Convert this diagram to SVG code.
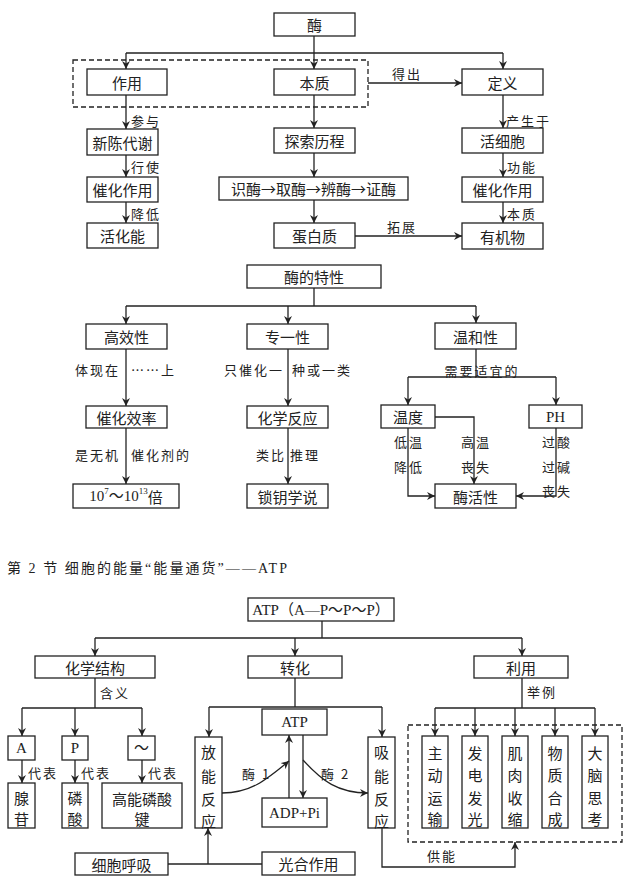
<svg xmlns="http://www.w3.org/2000/svg" width="640" height="894" viewBox="0 0 640 894">
<style>
.b{fill:#fff;stroke:#222;stroke-width:1.3}
.d{fill:none;stroke:#222;stroke-width:1.3;stroke-dasharray:5,3}
.t{font-family:"Noto Sans CJK SC","Liberation Sans",sans-serif;font-size:15px;fill:#222;text-anchor:middle;dominant-baseline:central}
.s{font-family:"Liberation Serif","Noto Sans CJK SC",serif;font-size:15px;fill:#222;text-anchor:middle;dominant-baseline:central}
.l{font-family:"Noto Sans CJK SC","Liberation Sans",sans-serif;font-size:13px;letter-spacing:2px;fill:#222;dominant-baseline:central}
.h{font-family:"Liberation Serif","Noto Sans CJK SC",serif;font-size:14px;fill:#222;dominant-baseline:central}
.c path,.c polyline,.c line{fill:none;stroke:#222;stroke-width:1.3}
.a{marker-end:url(#ar)}
</style>
<defs>
<marker id="ar" markerUnits="userSpaceOnUse" markerWidth="9" markerHeight="9" refX="8" refY="4" orient="auto">
<path d="M0,0 L8,4 L0,8 L2.5,4 z" fill="#222"/>
</marker>
</defs>

<g id="connectors" class="c">
<line class="a" x1="314" y1="36" x2="314" y2="69"/>
<polyline class="a" points="126,53 126,69"/>
<line x1="126" y1="53" x2="503" y2="53"/>
<polyline class="a" points="503,53 503,69"/>
<line class="a" x1="368" y1="83" x2="462" y2="83"/>
<line class="a" x1="314" y1="95" x2="314" y2="128"/>
<line class="a" x1="314" y1="153" x2="314" y2="177"/>
<line class="a" x1="314" y1="200" x2="314" y2="223"/>
<line class="a" x1="355" y1="236" x2="462" y2="236"/>
<line class="a" x1="126" y1="95" x2="126" y2="129"/>
<line class="a" x1="126" y1="155" x2="126" y2="177"/>
<line class="a" x1="126" y1="202" x2="126" y2="223"/>
<line class="a" x1="503" y1="95" x2="503" y2="128"/>
<line class="a" x1="503" y1="153" x2="503" y2="177"/>
<line class="a" x1="503" y1="202" x2="503" y2="223"/>
<line x1="314" y1="288" x2="314" y2="306"/>
<line x1="126" y1="306" x2="476" y2="306"/>
<line class="a" x1="126" y1="306" x2="126" y2="324"/>
<line class="a" x1="288" y1="306" x2="288" y2="324"/>
<line class="a" x1="476" y1="306" x2="476" y2="323"/>
<line class="a" x1="126" y1="349" x2="126" y2="406"/>
<line class="a" x1="126" y1="428" x2="126" y2="484"/>
<line class="a" x1="288" y1="349" x2="288" y2="406"/>
<line class="a" x1="288" y1="428" x2="288" y2="484"/>
<line x1="476" y1="349" x2="476" y2="377"/>
<line x1="408" y1="377" x2="556" y2="377"/>
<line class="a" x1="408" y1="377" x2="408" y2="405"/>
<line class="a" x1="556" y1="377" x2="556" y2="405"/>
<polyline class="a" points="408,428 408,496 435,496"/>
<polyline class="a" points="435,417 474,417 474,484"/>
<polyline class="a" points="556,428 556,496 516,496"/>
<line x1="322" y1="621" x2="322" y2="638"/>
<line x1="95" y1="638" x2="522" y2="638"/>
<line class="a" x1="95" y1="638" x2="95" y2="656"/>
<line class="a" x1="295" y1="638" x2="295" y2="656"/>
<line class="a" x1="522" y1="638" x2="522" y2="656"/>
<line x1="95" y1="678" x2="95" y2="708"/>
<line x1="22" y1="708" x2="142" y2="708"/>
<line class="a" x1="22" y1="708" x2="22" y2="736"/>
<line class="a" x1="75" y1="708" x2="75" y2="736"/>
<line class="a" x1="142" y1="708" x2="142" y2="736"/>
<line class="a" x1="22" y1="760" x2="22" y2="783"/>
<line class="a" x1="75" y1="760" x2="75" y2="783"/>
<line class="a" x1="142" y1="760" x2="142" y2="783"/>
<line x1="295" y1="678" x2="295" y2="707"/>
<line x1="209" y1="707" x2="382" y2="707"/>
<line class="a" x1="209" y1="707" x2="209" y2="737"/>
<line class="a" x1="382" y1="707" x2="382" y2="737"/>
<line class="a" x1="289" y1="798" x2="289" y2="735"/>
<line class="a" x1="303" y1="735" x2="303" y2="798"/>
<path class="a" d="M222,793 C250,793 265,781 289,761"/>
<path class="a" d="M303,760 C322,781 338,793 368,793"/>
<line x1="168" y1="864" x2="262" y2="864"/>
<line class="a" x1="208" y1="864" x2="208" y2="828"/>
<polyline class="a" points="382,828 382,867 515,867 515,842"/>
<line x1="522" y1="678" x2="522" y2="708"/>
<line x1="435" y1="708" x2="595" y2="708"/>
<line class="a" x1="435" y1="708" x2="435" y2="736"/>
<line class="a" x1="475" y1="708" x2="475" y2="736"/>
<line class="a" x1="515" y1="708" x2="515" y2="736"/>
<line class="a" x1="555" y1="708" x2="555" y2="736"/>
<line class="a" x1="595" y1="708" x2="595" y2="736"/>
</g>

<g id="labels">
<text class="l" x="131" y="120">参与</text>
<text class="l" x="131" y="166">行使</text>
<text class="l" x="131" y="213">降低</text>
<text class="l" x="506" y="120">产生于</text>
<text class="l" x="507" y="166">功能</text>
<text class="l" x="507" y="213">本质</text>
<text class="l" x="392" y="73">得出</text>
<text class="l" x="387" y="226">拓展</text>
<text class="l" x="120" y="369" text-anchor="end">体现在</text>
<text class="l" x="131" y="369">……上</text>
<text class="l" x="120" y="454" text-anchor="end">是无机</text>
<text class="l" x="131" y="454">催化剂的</text>
<text class="l" x="284" y="369" text-anchor="end">只催化一</text>
<text class="l" x="292" y="369">种或一类</text>
<text class="l" x="286" y="454" text-anchor="end">类比</text>
<text class="l" x="290" y="454">推理</text>
<text class="l" x="482" y="370" text-anchor="middle">需要适宜的</text>
<text class="l" x="409" y="441" text-anchor="middle">低温</text>
<text class="l" x="409" y="466" text-anchor="middle">降低</text>
<text class="l" x="476" y="441" text-anchor="middle">高温</text>
<text class="l" x="476" y="466" text-anchor="middle">丧失</text>
<text class="l" x="557" y="441" text-anchor="middle">过酸</text>
<text class="l" x="557" y="466" text-anchor="middle">过碱</text>
<text class="l" x="557" y="490" text-anchor="middle">丧失</text>
<text class="h" x="7" y="568" textLength="280" lengthAdjust="spacing">第 2 节  细胞的能量“能量通货”——ATP</text>
<text class="l" x="100" y="692">含义</text>
<text class="l" x="527" y="691">举例</text>
<text class="l" x="28" y="772">代表</text>
<text class="l" x="81" y="772">代表</text>
<text class="l" x="148" y="772">代表</text>
<text class="l" x="242" y="773">酶 1</text>
<text class="l" x="321" y="773">酶 2</text>
<text class="l" x="427" y="855">供能</text>
</g>

<rect class="d" x="73" y="60" width="295" height="47"/>
<rect class="d" x="408" y="725" width="214" height="117"/>

<g id="n_mei"><rect class="b" x="274" y="13" width="81" height="23"/><text class="t" x="314.5" y="24.5">酶</text></g>
<g id="n_zuoyong"><rect class="b" x="87" y="69" width="80" height="26"/><text class="t" x="127" y="82">作用</text></g>
<g id="n_benzhi"><rect class="b" x="274" y="69" width="81" height="26"/><text class="t" x="314.5" y="82">本质</text></g>
<g id="n_dingyi"><rect class="b" x="462" y="69" width="81" height="26"/><text class="t" x="502.5" y="82">定义</text></g>
<g id="n_xinchen"><rect class="b" x="87" y="129" width="71" height="26"/><text class="t" x="122.5" y="142">新陈代谢</text></g>
<g id="n_cuihua1"><rect class="b" x="87" y="177" width="71" height="25"/><text class="t" x="122.5" y="189.5">催化作用</text></g>
<g id="n_huohua"><rect class="b" x="87" y="223" width="71" height="25"/><text class="t" x="122.5" y="235.5">活化能</text></g>
<g id="n_tansuo"><rect class="b" x="274" y="128" width="81" height="25"/><text class="t" x="314.5" y="140.5">探索历程</text></g>
<g id="n_shimei"><rect class="b" x="219" y="177" width="189" height="23"/><text class="t" x="313.5" y="188.5">识酶→取酶→辨酶→证酶</text></g>
<g id="n_danbai"><rect class="b" x="274" y="223" width="81" height="25"/><text class="t" x="314.5" y="235.5">蛋白质</text></g>
<g id="n_huoxibao"><rect class="b" x="462" y="128" width="81" height="25"/><text class="t" x="502.5" y="140.5">活细胞</text></g>
<g id="n_cuihua2"><rect class="b" x="462" y="177" width="81" height="25"/><text class="t" x="502.5" y="189.5">催化作用</text></g>
<g id="n_youji"><rect class="b" x="462" y="223" width="81" height="26"/><text class="t" x="502.5" y="236">有机物</text></g>

<g id="n_texing"><rect class="b" x="247" y="265" width="134" height="23"/><text class="t" x="314" y="276.5">酶的特性</text></g>
<g id="n_gaoxiao"><rect class="b" x="86" y="324" width="81" height="25"/><text class="t" x="126.5" y="336.5">高效性</text></g>
<g id="n_zhuanyi"><rect class="b" x="247" y="324" width="81" height="25"/><text class="t" x="287.5" y="336.5">专一性</text></g>
<g id="n_wenhe"><rect class="b" x="435" y="323" width="81" height="26"/><text class="t" x="475.5" y="336">温和性</text></g>
<g id="n_xiaolv"><rect class="b" x="86" y="406" width="81" height="22"/><text class="t" x="126.5" y="417">催化效率</text></g>
<g id="n_fanying"><rect class="b" x="247" y="406" width="81" height="22"/><text class="t" x="287.5" y="417">化学反应</text></g>
<g id="n_bei"><rect class="b" x="73" y="484" width="106" height="24"/><text class="s" x="126" y="496">10<tspan font-size="9" dy="-5">7</tspan><tspan dy="5">～10</tspan><tspan font-size="9" dy="-5">13</tspan><tspan dy="5" font-family="Noto Sans CJK SC">倍</tspan></text></g>
<g id="n_suoyao"><rect class="b" x="247" y="484" width="81" height="24"/><text class="t" x="287.5" y="496">锁钥学说</text></g>
<g id="n_wendu"><rect class="b" x="381" y="405" width="54" height="23"/><text class="t" x="408" y="416.5">温度</text></g>
<g id="n_ph"><rect class="b" x="529" y="405" width="53" height="23"/><text class="s" x="555.5" y="416.5">PH</text></g>
<g id="n_huoxing"><rect class="b" x="435" y="484" width="81" height="24"/><text class="t" x="475.5" y="496">酶活性</text></g>

<g id="n_atp"><rect class="b" x="248" y="598" width="146" height="23"/><text class="s" x="321" y="609.5">ATP（A—P～P～P）</text></g>
<g id="n_jiegou"><rect class="b" x="35" y="656" width="120" height="22"/><text class="t" x="95" y="667">化学结构</text></g>
<g id="n_zhuanhua"><rect class="b" x="248" y="656" width="94" height="22"/><text class="t" x="295" y="667">转化</text></g>
<g id="n_liyong"><rect class="b" x="474" y="656" width="94" height="22"/><text class="t" x="521" y="667">利用</text></g>
<g id="n_a"><rect class="b" x="8" y="736" width="27" height="24"/><text class="s" x="21.5" y="748">A</text></g>
<g id="n_p"><rect class="b" x="62" y="736" width="26" height="24"/><text class="s" x="75" y="748">P</text></g>
<g id="n_wave"><rect class="b" x="128" y="736" width="27" height="24"/><text class="s" x="141.5" y="748">～</text></g>
<g id="n_xiangan"><rect class="b" x="8" y="783" width="27" height="45"/><text class="t" x="21.5" y="797">腺</text><text class="t" x="21.5" y="818">苷</text></g>
<g id="n_linsuan"><rect class="b" x="62" y="783" width="26" height="45"/><text class="t" x="75" y="797">磷</text><text class="t" x="75" y="818">酸</text></g>
<g id="n_jian"><rect class="b" x="102" y="783" width="80" height="45"/><text class="t" x="142" y="798">高能磷酸</text><text class="t" x="142" y="818">键</text></g>
<g id="n_fangneng"><rect class="b" x="195" y="737" width="27" height="91"/><text class="t" x="208.5" y="751">放</text><text class="t" x="208.5" y="775">能</text><text class="t" x="208.5" y="798">反</text><text class="t" x="208.5" y="820">应</text></g>
<g id="n_xineng"><rect class="b" x="368" y="737" width="27" height="91"/><text class="t" x="381.5" y="751">吸</text><text class="t" x="381.5" y="775">能</text><text class="t" x="381.5" y="798">反</text><text class="t" x="381.5" y="820">应</text></g>
<g id="n_atp2"><rect class="b" x="262" y="709" width="65" height="26"/><text class="s" x="294.5" y="722">ATP</text></g>
<g id="n_adp"><rect class="b" x="262" y="798" width="65" height="29"/><text class="s" x="294.5" y="812.5">ADP+Pi</text></g>
<g id="n_huxi"><rect class="b" x="75" y="853" width="93" height="22"/><text class="t" x="121.5" y="864">细胞呼吸</text></g>
<g id="n_guanghe"><rect class="b" x="262" y="852" width="93" height="23"/><text class="t" x="308.5" y="863.5">光合作用</text></g>
<g id="n_zhudong"><rect class="b" x="422" y="736" width="26" height="92"/><text class="t" x="435" y="752">主</text><text class="t" x="435" y="774">动</text><text class="t" x="435" y="797">运</text><text class="t" x="435" y="818">输</text></g>
<g id="n_fadian"><rect class="b" x="462" y="736" width="26" height="92"/><text class="t" x="475" y="752">发</text><text class="t" x="475" y="774">电</text><text class="t" x="475" y="797">发</text><text class="t" x="475" y="818">光</text></g>
<g id="n_jirou"><rect class="b" x="502" y="736" width="26" height="92"/><text class="t" x="515" y="752">肌</text><text class="t" x="515" y="774">肉</text><text class="t" x="515" y="797">收</text><text class="t" x="515" y="818">缩</text></g>
<g id="n_wuzhi"><rect class="b" x="542" y="736" width="26" height="92"/><text class="t" x="555" y="752">物</text><text class="t" x="555" y="774">质</text><text class="t" x="555" y="797">合</text><text class="t" x="555" y="818">成</text></g>
<g id="n_danao"><rect class="b" x="582" y="736" width="26" height="92"/><text class="t" x="595" y="752">大</text><text class="t" x="595" y="774">脑</text><text class="t" x="595" y="797">思</text><text class="t" x="595" y="818">考</text></g>
</svg>
